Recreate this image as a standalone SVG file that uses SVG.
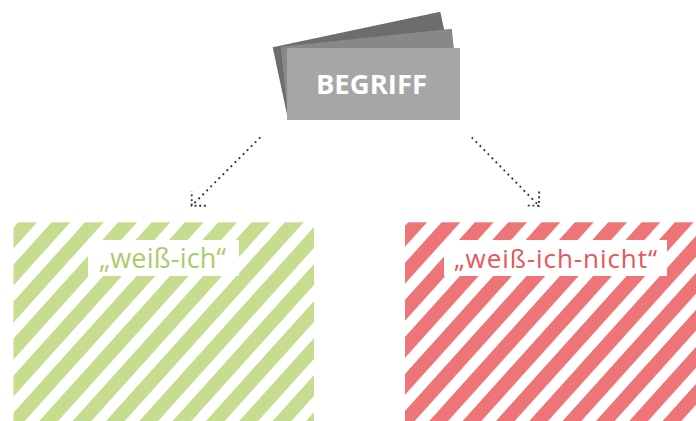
<svg xmlns="http://www.w3.org/2000/svg" width="696" height="421" viewBox="0 0 696 421">
  <style>
    .lbl { font-family: "Open Sans", "Liberation Sans", sans-serif; }
    .title { font-family: "Open Sans", "Liberation Sans", sans-serif; font-size: 27.5px; font-weight: bold; fill: #ffffff; text-anchor: middle; }
    .dots { fill: none; stroke: #333333; stroke-width: 1.9; stroke-dasharray: 1.9 3.8; }
    .ahead { fill: none; stroke: #333333; stroke-width: 1.9; stroke-dasharray: 1.9 2.8; }
  </style>
  <defs>
    <pattern id="stripeGreen" patternUnits="userSpaceOnUse" x="18.44" y="0" width="33.33" height="10" patternTransform="skewX(-42)">
      <rect x="0" y="0" width="18.8" height="10" fill="#c6dc8f"/>
    </pattern>
    <pattern id="stripeRed" patternUnits="userSpaceOnUse" x="8.44" y="0" width="33.33" height="10" patternTransform="skewX(-42)">
      <rect x="0" y="0" width="18.8" height="10" fill="#ee7577"/>
    </pattern>
    <marker id="arrow" markerUnits="userSpaceOnUse" orient="auto" refX="0" refY="0" markerWidth="30" markerHeight="30" viewBox="-15 -15 30 30" overflow="visible">
      <path class="ahead" d="M-10,-10 L0,0 L-10,10"/>
    </marker>
  </defs>
  <rect width="696" height="421" fill="#ffffff"/>

  <g id="begriff">
    <polygon points="272.7,47.3 440.3,11.7 455.3,82.1 287.7,117.7" fill="#6d6d6d"/>
    <polygon points="280.7,46.7 451.8,28.7 459.3,100.3 288.2,118.3" fill="#888888"/>
    <rect x="287" y="48" width="173" height="72" fill="#a6a6a6"/>
    <text class="title" x="371.5" y="94.3">BEGRIFF</text>
  </g>

  <g id="weiss-ich">
    <rect x="13.5" y="222.3" width="300.5" height="199" fill="url(#stripeGreen)"/>
    <rect x="88" y="240" width="151" height="36" fill="#ffffff"/>
    <text class="lbl" x="99" y="268.3" font-size="27" textLength="127" lengthAdjust="spacing" fill="#a9cc6b">„weiß-ich“</text>
  </g>

  <g id="weiss-ich-nicht">
    <rect x="405" y="222.3" width="300" height="199" fill="url(#stripeRed)"/>
    <rect x="444" y="240" width="223" height="36" fill="#ffffff"/>
    <text class="lbl" x="454" y="268.3" font-size="26" textLength="203" lengthAdjust="spacing" fill="#e9545b">„weiß-ich-nicht“</text>
  </g>

  <g id="connectors">
    <line class="dots" x1="260.3" y1="137.3" x2="191.7" y2="205.7" marker-end="url(#arrow)"/>
    <line class="dots" x1="471.7" y1="137.3" x2="539" y2="205.7" marker-end="url(#arrow)"/>
  </g>
</svg>
